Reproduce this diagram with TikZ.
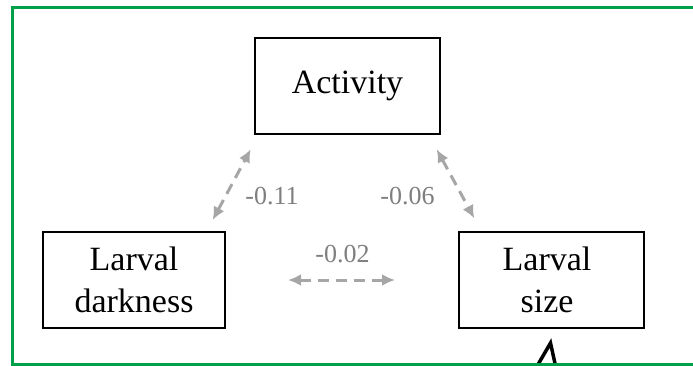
\documentclass[tikz,border=0pt]{standalone}
\usepackage{fontspec}
\setmainfont{Liberation Serif}
\usetikzlibrary{arrows.meta}
\definecolor{framegreen}{RGB}{0,160,72}
\definecolor{arrowgrey}{RGB}{166,166,166}
\definecolor{labelgrey}{RGB}{127,127,127}
\tikzset{
  varbox/.style={draw=black, line width=1.4pt, minimum width=185pt, minimum height=96pt,
    inner sep=0pt, align=center, font=\fontsize{34}{42}\selectfont},
  corr/.style={draw=arrowgrey, line width=3pt, dash pattern=on 11pt off 7pt,
    {Latex[length=13pt,width=12pt]}-{Latex[length=13pt,width=12pt]}},
  corrlabel/.style={text=labelgrey, font=\fontsize{26}{30}\selectfont, inner sep=0pt}
}
\begin{document}
\begin{tikzpicture}[x=1pt,y=-1pt]
\useasboundingbox (0,0) rectangle (693,366);
\clip (0,0) rectangle (693,366);
\fill[white] (0,0) rectangle (693,366);
% partial black glyph at bottom
\draw[line width=3.5pt, line join=miter] (536,368) -- (550.5,343) -- (556,368);
% green frame
\draw[framegreen, line width=3pt] (712,7.5) -- (12.5,7.5) -- (12.5,364) -- (712,364);
% boxes
\node[varbox] (act) at (347.5,86) {Activity};
\node[varbox, minimum width=182pt] (dark) at (134,280) {Larval\\darkness};
\node[varbox] (size) at (551.5,280) {Larval\hspace*{9pt}\\size\hspace*{9pt}};
% arrow end points
\coordinate (a1) at (250.7,149.3);
\coordinate (d1) at (212.7,220);
\coordinate (a2) at (436.7,149.3);
\coordinate (s2) at (474.3,218.3);
\coordinate (d3) at (288,280);
\coordinate (s3) at (395,280);
\draw[corr] (d1) -- (a1);
\draw[corr] (a2) -- (s2);
\draw[corr] (d3) -- (s3);
% labels
\node[corrlabel] (l1) at (272,196) {-0.11};
\node[corrlabel] (l2) at (407.5,196) {-0.06};
\node[corrlabel] (l3) at (342.5,254) {-0.02};
\end{tikzpicture}
\end{document}
